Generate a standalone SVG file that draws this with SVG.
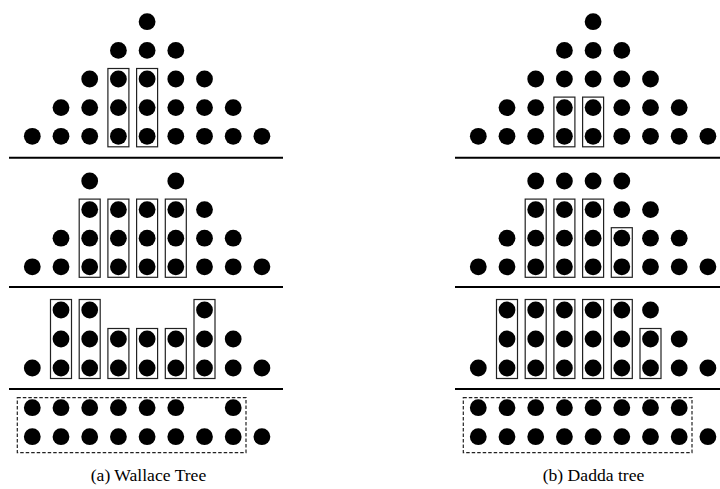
<svg xmlns="http://www.w3.org/2000/svg" width="720" height="489" viewBox="0 0 720 489">
<style>
circle{fill:#000}
.b{fill:none;stroke:#222;stroke-width:1.2}
.d{fill:none;stroke:#222;stroke-width:1.2;stroke-dasharray:3.5 2}
.sep{stroke:#000;stroke-width:2}
.cap{font-family:"Liberation Serif","Times New Roman",serif;font-size:17.6px;fill:#000;text-anchor:middle}
</style>
<rect width="720" height="489" fill="#fff"/>
<g id="wallace">
<g id="w-stage1">
<circle cx="147.1" cy="21.7" r="8.4"/>
<circle cx="118.4" cy="50.4" r="8.4"/><circle cx="147.1" cy="50.4" r="8.4"/><circle cx="175.8" cy="50.4" r="8.4"/>
<circle cx="89.7" cy="79" r="8.4"/><circle cx="118.4" cy="79" r="8.4"/><circle cx="147.1" cy="79" r="8.4"/><circle cx="175.8" cy="79" r="8.4"/><circle cx="204.5" cy="79" r="8.4"/>
<circle cx="61" cy="107.6" r="8.4"/><circle cx="89.7" cy="107.6" r="8.4"/><circle cx="118.4" cy="107.6" r="8.4"/><circle cx="147.1" cy="107.6" r="8.4"/><circle cx="175.8" cy="107.6" r="8.4"/><circle cx="204.5" cy="107.6" r="8.4"/><circle cx="233.2" cy="107.6" r="8.4"/>
<circle cx="32.3" cy="136.3" r="8.4"/><circle cx="61" cy="136.3" r="8.4"/><circle cx="89.7" cy="136.3" r="8.4"/><circle cx="118.4" cy="136.3" r="8.4"/><circle cx="147.1" cy="136.3" r="8.4"/><circle cx="175.8" cy="136.3" r="8.4"/><circle cx="204.5" cy="136.3" r="8.4"/><circle cx="233.2" cy="136.3" r="8.4"/><circle cx="261.9" cy="136.3" r="8.4"/>
<rect class="b" x="107.9" y="68.5" width="21" height="78.3"/>
<rect class="b" x="136.6" y="68.5" width="21" height="78.3"/>
</g>
<line class="sep" x1="9" y1="157.7" x2="283" y2="157.7"/>
<g id="w-stage2">
<circle cx="89.7" cy="181" r="8.4"/><circle cx="175.8" cy="181" r="8.4"/>
<circle cx="89.7" cy="209.6" r="8.4"/><circle cx="118.4" cy="209.6" r="8.4"/><circle cx="147.1" cy="209.6" r="8.4"/><circle cx="175.8" cy="209.6" r="8.4"/><circle cx="204.5" cy="209.6" r="8.4"/>
<circle cx="61" cy="238.2" r="8.4"/><circle cx="89.7" cy="238.2" r="8.4"/><circle cx="118.4" cy="238.2" r="8.4"/><circle cx="147.1" cy="238.2" r="8.4"/><circle cx="175.8" cy="238.2" r="8.4"/><circle cx="204.5" cy="238.2" r="8.4"/><circle cx="233.2" cy="238.2" r="8.4"/>
<circle cx="32.3" cy="266.8" r="8.4"/><circle cx="61" cy="266.8" r="8.4"/><circle cx="89.7" cy="266.8" r="8.4"/><circle cx="118.4" cy="266.8" r="8.4"/><circle cx="147.1" cy="266.8" r="8.4"/><circle cx="175.8" cy="266.8" r="8.4"/><circle cx="204.5" cy="266.8" r="8.4"/><circle cx="233.2" cy="266.8" r="8.4"/><circle cx="261.9" cy="266.8" r="8.4"/>
<rect class="b" x="79.2" y="199.1" width="21" height="78.2"/>
<rect class="b" x="107.9" y="199.1" width="21" height="78.2"/>
<rect class="b" x="136.6" y="199.1" width="21" height="78.2"/>
<rect class="b" x="165.3" y="199.1" width="21" height="78.2"/>
</g>
<line class="sep" x1="9" y1="287" x2="283" y2="287"/>
<g id="w-stage3">
<circle cx="61" cy="310" r="8.4"/><circle cx="89.7" cy="310" r="8.4"/><circle cx="204.5" cy="310" r="8.4"/>
<circle cx="61" cy="339" r="8.4"/><circle cx="89.7" cy="339" r="8.4"/><circle cx="118.4" cy="339" r="8.4"/><circle cx="147.1" cy="339" r="8.4"/><circle cx="175.8" cy="339" r="8.4"/><circle cx="204.5" cy="339" r="8.4"/><circle cx="233.2" cy="339" r="8.4"/>
<circle cx="32.3" cy="368" r="8.4"/><circle cx="61" cy="368" r="8.4"/><circle cx="89.7" cy="368" r="8.4"/><circle cx="118.4" cy="368" r="8.4"/><circle cx="147.1" cy="368" r="8.4"/><circle cx="175.8" cy="368" r="8.4"/><circle cx="204.5" cy="368" r="8.4"/><circle cx="233.2" cy="368" r="8.4"/><circle cx="261.9" cy="368" r="8.4"/>
<rect class="b" x="50.5" y="299.5" width="21" height="79"/>
<rect class="b" x="79.2" y="299.5" width="21" height="79"/>
<rect class="b" x="107.9" y="328.5" width="21" height="50"/>
<rect class="b" x="136.6" y="328.5" width="21" height="50"/>
<rect class="b" x="165.3" y="328.5" width="21" height="50"/>
<rect class="b" x="194" y="299.5" width="21" height="79"/>
</g>
<line class="sep" x1="9" y1="389" x2="283" y2="389"/>
<g id="w-stage4">
<circle cx="32.3" cy="407.7" r="8.4"/><circle cx="61" cy="407.7" r="8.4"/><circle cx="89.7" cy="407.7" r="8.4"/><circle cx="118.4" cy="407.7" r="8.4"/><circle cx="147.1" cy="407.7" r="8.4"/><circle cx="175.8" cy="407.7" r="8.4"/><circle cx="233.2" cy="407.7" r="8.4"/>
<circle cx="32.3" cy="436.7" r="8.4"/><circle cx="61" cy="436.7" r="8.4"/><circle cx="89.7" cy="436.7" r="8.4"/><circle cx="118.4" cy="436.7" r="8.4"/><circle cx="147.1" cy="436.7" r="8.4"/><circle cx="175.8" cy="436.7" r="8.4"/><circle cx="204.5" cy="436.7" r="8.4"/><circle cx="233.2" cy="436.7" r="8.4"/><circle cx="261.9" cy="436.7" r="8.4"/>
<rect class="d" x="17.3" y="397.7" width="228.7" height="55"/>
</g>
<text class="cap" x="148.5" y="481">(a) Wallace Tree</text>
</g>
<g id="dadda">
<g id="d-stage1">
<circle cx="593.1" cy="21.7" r="8.4"/>
<circle cx="564.4" cy="50.4" r="8.4"/><circle cx="593.1" cy="50.4" r="8.4"/><circle cx="621.8" cy="50.4" r="8.4"/>
<circle cx="535.7" cy="79" r="8.4"/><circle cx="564.4" cy="79" r="8.4"/><circle cx="593.1" cy="79" r="8.4"/><circle cx="621.8" cy="79" r="8.4"/><circle cx="650.5" cy="79" r="8.4"/>
<circle cx="507" cy="107.6" r="8.4"/><circle cx="535.7" cy="107.6" r="8.4"/><circle cx="564.4" cy="107.6" r="8.4"/><circle cx="593.1" cy="107.6" r="8.4"/><circle cx="621.8" cy="107.6" r="8.4"/><circle cx="650.5" cy="107.6" r="8.4"/><circle cx="679.2" cy="107.6" r="8.4"/>
<circle cx="478.3" cy="136.3" r="8.4"/><circle cx="507" cy="136.3" r="8.4"/><circle cx="535.7" cy="136.3" r="8.4"/><circle cx="564.4" cy="136.3" r="8.4"/><circle cx="593.1" cy="136.3" r="8.4"/><circle cx="621.8" cy="136.3" r="8.4"/><circle cx="650.5" cy="136.3" r="8.4"/><circle cx="679.2" cy="136.3" r="8.4"/><circle cx="707.9" cy="136.3" r="8.4"/>
<rect class="b" x="553.9" y="97.1" width="21" height="49.7"/>
<rect class="b" x="582.6" y="97.1" width="21" height="49.7"/>
</g>
<line class="sep" x1="455" y1="157.7" x2="720" y2="157.7"/>
<g id="d-stage2">
<circle cx="535.7" cy="181" r="8.4"/><circle cx="564.4" cy="181" r="8.4"/><circle cx="593.1" cy="181" r="8.4"/><circle cx="621.8" cy="181" r="8.4"/>
<circle cx="535.7" cy="209.6" r="8.4"/><circle cx="564.4" cy="209.6" r="8.4"/><circle cx="593.1" cy="209.6" r="8.4"/><circle cx="621.8" cy="209.6" r="8.4"/><circle cx="650.5" cy="209.6" r="8.4"/>
<circle cx="507" cy="238.2" r="8.4"/><circle cx="535.7" cy="238.2" r="8.4"/><circle cx="564.4" cy="238.2" r="8.4"/><circle cx="593.1" cy="238.2" r="8.4"/><circle cx="621.8" cy="238.2" r="8.4"/><circle cx="650.5" cy="238.2" r="8.4"/><circle cx="679.2" cy="238.2" r="8.4"/>
<circle cx="478.3" cy="266.8" r="8.4"/><circle cx="507" cy="266.8" r="8.4"/><circle cx="535.7" cy="266.8" r="8.4"/><circle cx="564.4" cy="266.8" r="8.4"/><circle cx="593.1" cy="266.8" r="8.4"/><circle cx="621.8" cy="266.8" r="8.4"/><circle cx="650.5" cy="266.8" r="8.4"/><circle cx="679.2" cy="266.8" r="8.4"/><circle cx="707.9" cy="266.8" r="8.4"/>
<rect class="b" x="525.2" y="199.1" width="21" height="78.2"/>
<rect class="b" x="553.9" y="199.1" width="21" height="78.2"/>
<rect class="b" x="582.6" y="199.1" width="21" height="78.2"/>
<rect class="b" x="611.3" y="227.7" width="21" height="49.6"/>
</g>
<line class="sep" x1="455" y1="287" x2="720" y2="287"/>
<g id="d-stage3">
<circle cx="507" cy="310" r="8.4"/><circle cx="535.7" cy="310" r="8.4"/><circle cx="564.4" cy="310" r="8.4"/><circle cx="593.1" cy="310" r="8.4"/><circle cx="621.8" cy="310" r="8.4"/><circle cx="650.5" cy="310" r="8.4"/>
<circle cx="507" cy="339" r="8.4"/><circle cx="535.7" cy="339" r="8.4"/><circle cx="564.4" cy="339" r="8.4"/><circle cx="593.1" cy="339" r="8.4"/><circle cx="621.8" cy="339" r="8.4"/><circle cx="650.5" cy="339" r="8.4"/><circle cx="679.2" cy="339" r="8.4"/>
<circle cx="478.3" cy="368" r="8.4"/><circle cx="507" cy="368" r="8.4"/><circle cx="535.7" cy="368" r="8.4"/><circle cx="564.4" cy="368" r="8.4"/><circle cx="593.1" cy="368" r="8.4"/><circle cx="621.8" cy="368" r="8.4"/><circle cx="650.5" cy="368" r="8.4"/><circle cx="679.2" cy="368" r="8.4"/><circle cx="707.9" cy="368" r="8.4"/>
<rect class="b" x="496.5" y="299.5" width="21" height="79"/>
<rect class="b" x="525.2" y="299.5" width="21" height="79"/>
<rect class="b" x="553.9" y="299.5" width="21" height="79"/>
<rect class="b" x="582.6" y="299.5" width="21" height="79"/>
<rect class="b" x="611.3" y="299.5" width="21" height="79"/>
<rect class="b" x="640" y="328.5" width="21" height="50"/>
</g>
<line class="sep" x1="455" y1="389" x2="720" y2="389"/>
<g id="d-stage4">
<circle cx="478.3" cy="407.7" r="8.4"/><circle cx="507" cy="407.7" r="8.4"/><circle cx="535.7" cy="407.7" r="8.4"/><circle cx="564.4" cy="407.7" r="8.4"/><circle cx="593.1" cy="407.7" r="8.4"/><circle cx="621.8" cy="407.7" r="8.4"/><circle cx="650.5" cy="407.7" r="8.4"/><circle cx="679.2" cy="407.7" r="8.4"/>
<circle cx="478.3" cy="436.7" r="8.4"/><circle cx="507" cy="436.7" r="8.4"/><circle cx="535.7" cy="436.7" r="8.4"/><circle cx="564.4" cy="436.7" r="8.4"/><circle cx="593.1" cy="436.7" r="8.4"/><circle cx="621.8" cy="436.7" r="8.4"/><circle cx="650.5" cy="436.7" r="8.4"/><circle cx="679.2" cy="436.7" r="8.4"/><circle cx="707.9" cy="436.7" r="8.4"/>
<rect class="d" x="463.3" y="397.7" width="228.7" height="55"/>
</g>
<text class="cap" x="593.5" y="481">(b) Dadda tree</text>
</g>
</svg>
